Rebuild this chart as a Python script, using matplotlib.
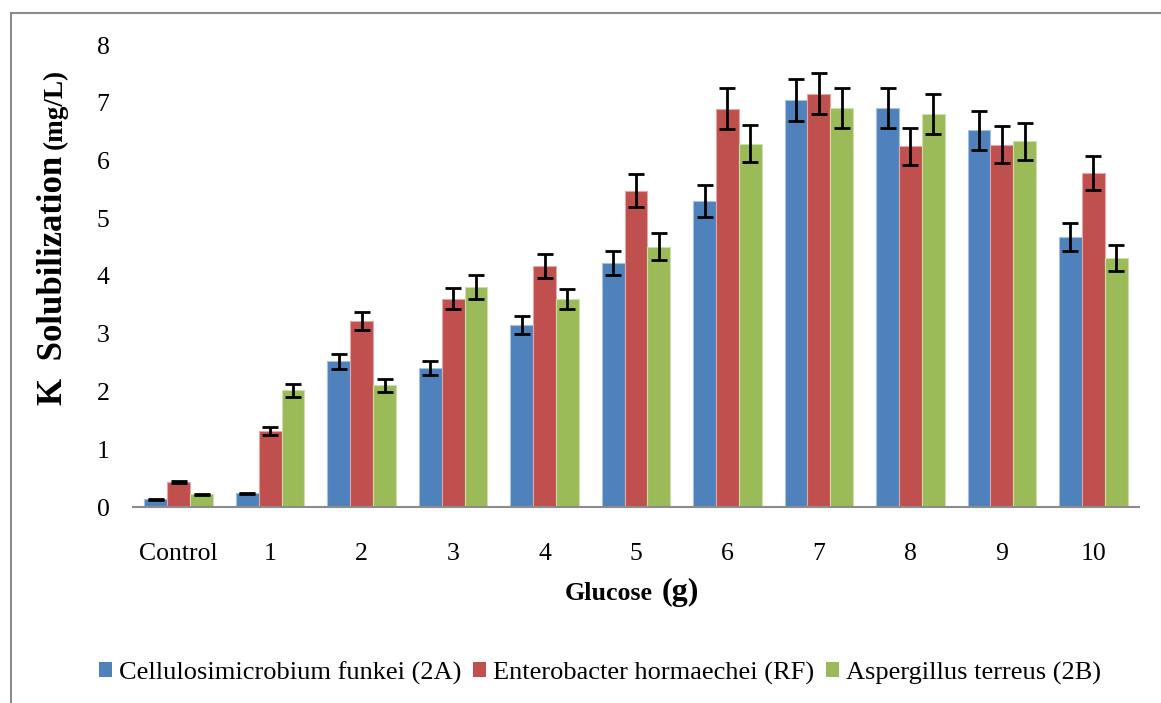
import matplotlib
matplotlib.use("Agg")
import matplotlib.pyplot as plt
import numpy as np
from matplotlib.lines import Line2D

categories = ['Control', '1', '2', '3', '4', '5', '6', '7', '8', '9', '10']
series_names = ['Cellulosimicrobium funkei (2A)', 'Enterobacter hormaechei (RF)', 'Aspergillus terreus (2B)']
c2a = [0.13, 0.24, 2.52, 2.41, 3.15, 4.23, 5.30, 7.05, 6.91, 6.52, 4.67]
c2a_err = [0.01, 0.01, 0.13, 0.12, 0.16, 0.21, 0.27, 0.36, 0.35, 0.33, 0.24]
rf = [0.43, 1.32, 3.22, 3.61, 4.17, 5.48, 6.90, 7.16, 6.25, 6.27, 5.78]
rf_err = [0.02, 0.07, 0.16, 0.18, 0.21, 0.28, 0.35, 0.36, 0.32, 0.32, 0.29]
b2 = [0.22, 2.02, 2.11, 3.81, 3.60, 4.51, 6.29, 6.91, 6.81, 6.33, 4.31]
b2_err = [0.01, 0.11, 0.11, 0.20, 0.18, 0.23, 0.32, 0.35, 0.35, 0.32, 0.22]
y_ticks = [0, 1, 2, 3, 4, 5, 6, 7, 8]

colors = ['#4F81BD', '#C0504D', '#9BBB59']
edges = ['#A7C0DE', '#E0A8A6', '#CDDDAC']

plt.rcParams['font.family'] = ['Liberation Serif', 'DejaVu Serif']

W, H = 1161, 703
fig = plt.figure(figsize=(W / 100, H / 100), dpi=100)
ax = fig.add_axes([133 / W, 1 - 507 / H, (1139 - 133) / W, (507 - 45) / H])

x = np.arange(len(categories))
bw = 0.25
data = [(c2a, c2a_err), (rf, rf_err), (b2, b2_err)]
for i, (vals, errs) in enumerate(data):
    pos = x + (i - 1) * bw
    ax.bar(pos, vals, width=bw, color=colors[i], edgecolor=edges[i], linewidth=0.8,
           label=series_names[i], zorder=2)
    ax.errorbar(pos, vals, yerr=errs, fmt='none', ecolor='black', elinewidth=2,
                capsize=5.5, capthick=2, zorder=3)

ax.set_xlim(-0.5, len(categories) - 0.5)
ax.set_ylim(0, 8)
ax.set_yticks(y_ticks)
ax.set_yticklabels([str(t) for t in y_ticks])
ax.set_xticks(x)
ax.set_xticklabels(categories)
ax.tick_params(axis='both', length=0, labelsize=18.5)
ax.tick_params(axis='x', pad=26)
ax.tick_params(axis='y', pad=17)
for s in ['left', 'top', 'right']:
    ax.spines[s].set_visible(False)
ax.spines['bottom'].set_color('#8C8C8C')
ax.spines['bottom'].set_linewidth(1.5)

# figure frame (left and top edges visible)
fig.add_artist(Line2D([10.5 / W, 10.5 / W], [0, 1 - 13 / H], color='#8C8C8C', lw=1.5, transform=fig.transFigure))
fig.add_artist(Line2D([10.5 / W, 1], [1 - 13 / H, 1 - 13 / H], color='#8C8C8C', lw=1.5, transform=fig.transFigure))

# axis labels with mixed sizes
fig.canvas.draw()
r = fig.canvas.get_renderer()

t1 = fig.text(653 / W, 1 - 600 / H, 'Glucose', fontsize=18.7, fontweight='bold', ha='right', va='baseline')
fig.text(662 / W, 1 - 600 / H, '(g)', fontsize=23, fontweight='bold', ha='left', va='baseline')

t2 = fig.text(62 / W, 1 - 405 / H, 'K  Solubilization', fontsize=25, fontweight='bold', ha='left', va='baseline',
              rotation=90, rotation_mode='anchor')
fig.canvas.draw()
bb = t2.get_window_extent(r)
top_px = bb.y1 / fig.dpi * 100
fig.text(62 / W, (top_px + 7) / H, '(mg/L)', fontsize=19.5, fontweight='bold', ha='left', va='baseline',
         rotation=90, rotation_mode='anchor')

leg = fig.legend(loc='center', bbox_to_anchor=(600 / W, 1 - 673 / H), ncol=3, frameon=False,
                 fontsize=19, handlelength=0.5, handleheight=0.5, handletextpad=0.25,
                 columnspacing=0.45, borderpad=0, borderaxespad=0)
for h in leg.legend_handles:
    h.set_edgecolor('none')

fig.savefig('out.png', dpi=100)
